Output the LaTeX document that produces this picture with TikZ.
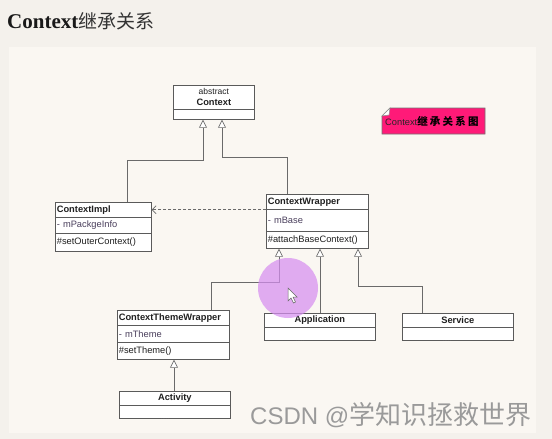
\documentclass[tikz,border=0pt]{standalone}
\usepackage{fontspec}
\usetikzlibrary{arrows.meta}
\newfontfamily\lsans{Liberation Sans}
\newfontfamily\lserif{Liberation Serif}
\newfontfamily\cjk{Noto Sans CJK SC}
\definecolor{pagebg}{HTML}{F4F1EC}
\definecolor{panelbg}{HTML}{FAF7F2}
\definecolor{boxc}{HTML}{5A5A5A}
\definecolor{linec}{HTML}{6A6A6A}
\definecolor{attrc}{HTML}{4A3F5C}
\definecolor{notepink}{HTML}{FF1A78}
\definecolor{lilac}{RGB}{214,143,240}
\definecolor{wmark}{HTML}{9A9A9A}
\newcommand\fs{\lsans\fontsize{9.3}{11}\selectfont}
\begin{document}
\begin{tikzpicture}[x=1pt,y=-1pt,
  box/.style={draw=boxc, fill=white, line width=0.7pt, inner xsep=1.5pt, inner ysep=0pt,
    anchor=north west, font=\fs, text=black!88},
  hdr/.style={box, font=\fs\bfseries},
  attr/.style={box, text=attrc},
  inh/.style={draw=linec, line width=0.7pt, -{Triangle[length=8pt,width=8pt,fill=white]}},
  dep/.style={draw=linec, line width=0.7pt, dash pattern=on 3pt off 2pt, -{Straight Barb[length=4pt,width=8pt]}},
  dots/.style={inner sep=0pt, font=\lsans\fontsize{6}{6}\selectfont, text=black!60}]
\useasboundingbox (0,0) rectangle (552,439);
\fill[pagebg] (0,0) rectangle (552,439);
\fill[panelbg] (9,47) rectangle (536,433);

% title
\node[anchor=base west, inner sep=0pt, text=black!90] (title) at (7,28)
  {\lserif\bfseries\fontsize{21}{21}\selectfont Context{\cjk\mdseries\fontsize{19}{19}\selectfont\color{black!80}继承关系}};

% Context
\node[box, minimum width=81pt, minimum height=24pt, align=center] (ctx) at (173,85)
  {{\fontsize{8.5}{11}\selectfont abstract}\\\textbf{Context}};
\node[box, minimum width=81pt, minimum height=10pt] (ctxb) at (173,109) {};

% ContextImpl
\node[hdr, text width=93pt, minimum height=15pt, align=left] (implh) at (55,202) {ContextImpl};
\node[attr, text width=93pt, minimum height=16pt, align=left] (impla) at (55,217) {- mPackgeInfo};
\node[box, text width=93pt, minimum height=18pt, align=left] (implm) at (55,233) {\#setOuterContext()};

% ContextWrapper
\node[hdr, text width=99pt, minimum height=15pt, align=left] (cwh) at (266,194) {ContextWrapper};
\node[attr, text width=99pt, minimum height=22pt, align=left] (cwa) at (266,209) {- mBase};
\node[box, text width=99pt, minimum height=17pt, align=left] (cwm) at (266,231) {\#attachBaseContext()};

% ContextThemeWrapper
\node[hdr, text width=109pt, minimum height=15pt, align=left] (ctwh) at (117,310) {ContextThemeWrapper};
\node[attr, text width=109pt, minimum height=17pt, align=left] (ctwa) at (117,325) {- mTheme};
\node[box, text width=109pt, minimum height=17pt, align=left] (ctwm) at (117,342) {\#setTheme()};

% Application, Service, Activity
\node[hdr, minimum width=111pt, minimum height=14pt] (apph) at (264,313) {Application};
\node[box, minimum width=111pt, minimum height=13pt] (appb) at (264,327) {};
\node[hdr, minimum width=111pt, minimum height=14pt] (svch) at (402,313) {Service};
\node[box, minimum width=111pt, minimum height=13pt] (svcb) at (402,327) {};
\node[hdr, minimum width=111pt, minimum height=14pt] (acth) at (119,391) {Activity};
\node[box, minimum width=111pt, minimum height=13pt] (actb) at (119,405) {};
\node[dots] (appd) at (300,341) {.....};
\node[dots] (svcd) at (447,341) {.....};
\node[dots] (actd) at (165,419.5) {.....};

% bend points
\coordinate (b1) at (127,160);
\coordinate (b2) at (203,160);
\coordinate (b3) at (287,157);
\coordinate (b4) at (222,157);
\coordinate (b5) at (211,282);
\coordinate (b6) at (279,282);
\coordinate (x320) at (320,0);
\coordinate (b7) at (422,286);
\coordinate (b8) at (358,286);
\coordinate (x174) at (174,0);

% connectors
\draw[inh] (implh.north -| b1) |- (b2) -- (ctxb.south -| b2);
\draw[inh] (cwh.north -| b3) |- (b4) -- (ctxb.south -| b4);
\draw[dep] (cwh.south west) -- (implh.east |- cwh.south west);
\draw[inh] (ctwh.north -| b5) |- (b6) -- (cwm.south -| b6);
\draw[inh] (apph.north -| x320) -- (cwm.south -| x320);
\draw[inh] (svch.north -| b7) |- (b8) -- (cwm.south -| b8);
\draw[inh] (acth.north -| x174) -- (ctwm.south -| x174);

% note
\filldraw[fill=notepink, draw=black!55, line width=0.6pt]
  (382,116) -- (390,108) -- (485,108) -- (485,134) -- (382,134) -- cycle;
\filldraw[fill=white, draw=black!45, line width=0.5pt] (382,116) -- (390,108) -- (389,115) -- cycle;
\node[anchor=west, inner sep=0pt] (note) at (385,121)
  {\lsans\fontsize{9.3}{10}\selectfont\color{black!85}Context{\cjk\bfseries\fontsize{10.5}{10}\selectfont\color{black}继\kern2.2pt 承\kern2.2pt 关\kern2.2pt 系\kern2.2pt 图}};

% pointer highlight
\fill[lilac, opacity=0.72] (288,288) circle (30);
\filldraw[fill=white, draw=black!60, line width=0.5pt]
  (288,288) -- (288,301) -- (291,298) -- (293.5,303) -- (295.5,302) -- (293,297) -- (297,297) -- cycle;

% watermark
\node[anchor=base west, inner sep=0pt, text=wmark] (wm) at (250,424)
  {\lsans\fontsize{24}{24}\selectfont CSDN @{\cjk\fontsize{26}{26}\selectfont 学知识拯救世界}};
\end{tikzpicture}
\end{document}
